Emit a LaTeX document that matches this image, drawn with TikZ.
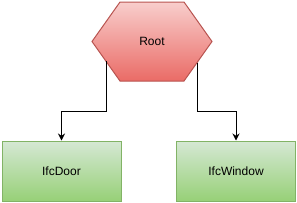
\documentclass[tikz,border=0pt]{standalone}
\usepackage{fontspec}
\setmainfont{Liberation Sans}
\usepackage{xcolor}
\usetikzlibrary{arrows.meta}

\definecolor{rootline}{HTML}{B85450}
\definecolor{roottop}{HTML}{F8CECC}
\definecolor{rootbot}{HTML}{EA6B66}
\definecolor{leafline}{HTML}{82B366}
\definecolor{leaftop}{HTML}{D5E8D4}
\definecolor{leafbot}{HTML}{97D077}

\tikzset{
  hexa/.style={draw=rootline, line width=1pt,
    top color=roottop, bottom color=rootbot},
  label/.style={inner sep=0pt, font=\fontsize{12pt}{14pt}\selectfont},
  leaf/.style={draw=leafline, line width=1pt, rectangle,
    minimum width=119pt, minimum height=60pt, inner sep=0pt,
    top color=leaftop, bottom color=leafbot,
    font=\fontsize{12pt}{14pt}\selectfont},
  link/.style={line width=1pt, -{Stealth[length=7pt,width=7pt]}}
}

\begin{document}
\begin{tikzpicture}[x=1pt,y=1pt]
			\useasboundingbox (0,0) rectangle (297,-202);
			
			% hexagon of the root
			\shade[hexa] (92,-41.5) -- (120,-2) -- (184,-2) -- (212,-41.5)
				-- (184,-81) -- (120,-81) -- cycle;
			\node[label] (root) at (152,-41.5) {Root};
			\coordinate (rootL) at (106,-61.25);
			\coordinate (rootR) at (197,-62.7);
			
			\node[leaf] (door) at (61.5,-171) {IfcDoor};
			\node[leaf] (window) at (236,-171) {IfcWindow};
			
			\coordinate (bend) at (0,-111);
			
			\draw[link] (rootL) -- (rootL |- bend) -| (door.north);
			\draw[link] (rootR) -- (rootR |- bend) -| (window.north);
		\end{tikzpicture}
\end{document}
